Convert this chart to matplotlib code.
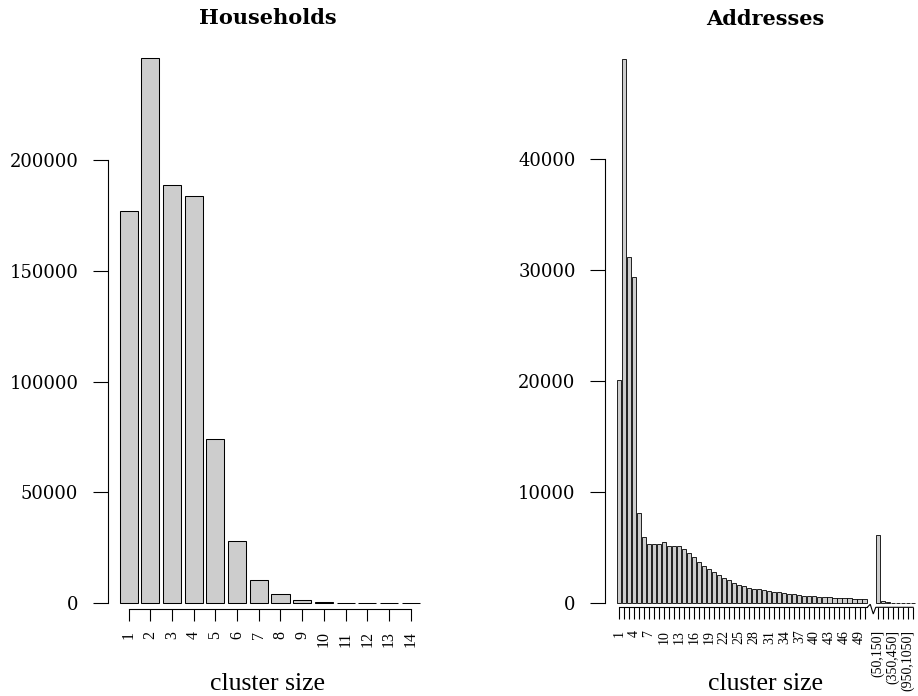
import matplotlib
matplotlib.use("Agg")
import matplotlib.pyplot as plt

# ---------------- data ----------------
hh_sizes = [str(i) for i in range(1, 15)]
hh_counts = [177000, 246000, 188700, 183900, 74100, 28200, 10700,
             4200, 1500, 800, 350, 180, 100, 60]

addr_sizes = [str(i) for i in range(1, 51)]
addr_counts = [20100, 49000, 31200, 29400, 8100, 5980, 5380, 5350, 5380, 5500,
               5140, 5140, 5140, 4870, 4530, 4170, 3720, 3330, 3120, 2820,
               2520, 2310, 2070, 1860, 1680, 1530, 1410, 1320, 1260, 1200,
               1150, 1050, 980, 920, 860, 800, 750, 700, 660, 620,
               590, 560, 530, 500, 480, 460, 440, 420, 400, 380]
addr_bins = ["(50,150]", "(150,250]", "(250,350]", "(350,450]",
             "(450,550]", "(550,650]", "(950,1050]", "(1050,1150]"]
addr_bin_counts = [6150, 250, 100, 40, 25, 15, 10, 8]

# ---------------- style ----------------
W, H = 918, 696
plt.rcParams['font.family'] = ['DejaVu Serif']
TIMES = ['Liberation Serif', 'DejaVu Serif']
BAR_COLOR = '#CDCDCD'
SPACE = 0.2
GAP = 2.0

fig = plt.figure(figsize=(W / 100, H / 100), dpi=100)


def add_axes_px(l, r, top, bottom):
    return fig.add_axes([l / W, 1 - bottom / H, (r - l) / W, (bottom - top) / H])


def r_centers(n, offset=0.0, start=0):
    return [SPACE + (1 + SPACE) * (start + i) + 0.5 + offset for i in range(n)]


def px_to_ydata(ax, py, top, bottom):
    lo, hi = ax.get_ylim()
    return lo + (bottom - py) / (bottom - top) * (hi - lo)


def style_axes(ax, xlabelsize, xpad, xlen):
    for s in ['top', 'right']:
        ax.spines[s].set_visible(False)
    ax.spines['left'].set_linewidth(0.8)
    ax.spines['bottom'].set_linewidth(0.8)
    ax.tick_params(axis='y', direction='out', length=11, width=0.8, pad=10,
                   labelsize=13)
    ax.tick_params(axis='x', direction='out', length=xlen, width=0.8,
                   labelrotation=90, labelsize=xlabelsize, pad=xpad,
                   labelfontfamily='Liberation Serif')


# ---------------- left: Households ----------------
TOP, BOT = 36.2, 625.1
ax1 = add_axes_px(107.5, 428.1, TOP, BOT)
x1 = r_centers(len(hh_counts))
ax1.bar(x1, hh_counts, width=1, color=BAR_COLOR, edgecolor='black', linewidth=0.75)
xr = x1[-1] + 0.5 - SPACE
ext = 0.04 * xr
ax1.set_xlim(SPACE - ext, xr + ext)
m = max(hh_counts)
ax1.set_ylim(-0.04 * m, 1.04 * m)
ax1.spines['bottom'].set_position(('data', px_to_ydata(ax1, 609.3, TOP, BOT)))
ax1.spines['bottom'].set_bounds(x1[0], x1[-1])
ax1.spines['left'].set_bounds(0, 200000)
style_axes(ax1, 11.5, 7.5, 8.3)
ax1.set_yticks([0, 50000, 100000, 150000, 200000])
ax1.set_yticklabels(['0', '50000', '100000', '150000', '200000'])
ax1.set_xticks(x1)
ax1.set_xticklabels(hh_sizes)
ax1.set_title('Households', fontweight='bold', fontsize=15, pad=9)

# ---------------- right: Addresses ----------------
TOP2, BOT2 = 37.2, 625.1
ax2 = add_axes_px(604.8, 926.2, TOP2, BOT2)
xa = r_centers(len(addr_counts))
xb = r_centers(len(addr_bin_counts), offset=GAP, start=len(addr_counts))
ax2.bar(xa, addr_counts, width=1, color=BAR_COLOR, edgecolor='black', linewidth=0.6)
ax2.bar(xb, addr_bin_counts, width=1, color=BAR_COLOR, edgecolor='black', linewidth=0.6)
xr2 = xb[-1] + 0.5 - SPACE
ext2 = 0.04 * xr2
ax2.set_xlim(SPACE - ext2, xr2 + ext2)
m2 = max(addr_counts + addr_bin_counts)
ax2.set_ylim(-0.04 * m2, 1.04 * m2)
yline = px_to_ydata(ax2, 607.3, TOP2, BOT2)
ax2.spines['bottom'].set_position(('data', yline))
bx0 = xa[-1] + 0.65
ax2.spines['bottom'].set_bounds(xa[0], bx0)
ax2.spines['left'].set_bounds(0, 40000)
style_axes(ax2, 10, 7.5, 8.6)
ax2.set_yticks([0, 10000, 20000, 30000, 40000])
ax2.set_yticklabels(['0', '10000', '20000', '30000', '40000'])
ax2.set_xticks(xa + xb)
labs = [s if i % 3 == 0 else '' for i, s in enumerate(addr_sizes)] + \
       [s if i % 3 == 0 else '' for i, s in enumerate(addr_bins)]
ax2.set_xticklabels(labs)
yup = px_to_ydata(ax2, 604.3, TOP2, BOT2)
ydn = px_to_ydata(ax2, 614.0, TOP2, BOT2)
ax2.plot([bx0, xa[-1] + 1.37, xa[-1] + 2.09, xa[-1] + 2.69, xb[-1]],
         [yline, yup, ydn, yline, yline], color='black', lw=0.8,
         clip_on=False, solid_joinstyle='miter')
ax2.set_title('Addresses', fontweight='bold', fontsize=15, pad=9)

# x labels
fig.text((107.5 + 428.1) / 2 / W, 1 - 690 / H, 'cluster size', ha='center',
         va='baseline', fontsize=18.5, family=TIMES)
fig.text((604.8 + 926.2) / 2 / W, 1 - 690 / H, 'cluster size', ha='center',
         va='baseline', fontsize=18.5, family=TIMES)

fig.savefig('out.png', dpi=100)
